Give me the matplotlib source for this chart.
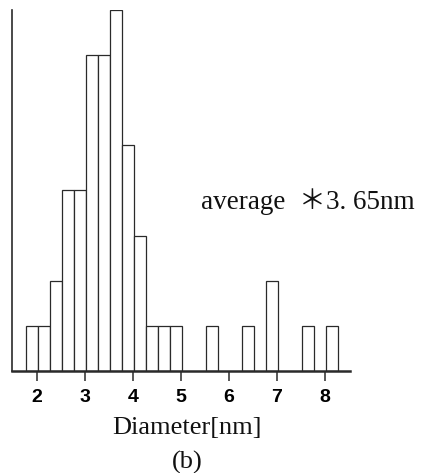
"""Histogram of particle diameters, panel (b)."""

import matplotlib
matplotlib.use("Agg")
import matplotlib.pyplot as plt

# bin left edges (nm) and counts
bin_left = [1.77, 2.02, 2.27, 2.52, 2.77, 3.02, 3.27, 3.52, 3.77, 4.02,
            4.27, 4.52, 4.77, 5.52, 6.27, 6.77, 7.52, 8.02]
counts = [1, 1, 2, 4, 4, 7, 7, 8, 5, 3, 1, 1, 1, 1, 1, 2, 1, 1]
bin_width = 0.25
xticks = [2, 3, 4, 5, 6, 7, 8]
avg_label = "average  \uff0a3. 65nm"

serif = ["Liberation Serif", "Noto Sans CJK JP", "DejaVu Serif"]
narrow = ["Liberation Sans Narrow", "Liberation Sans", "DejaVu Sans"]
ink = "#2a2a2a"

fig = plt.figure(figsize=(4.21, 4.73), dpi=100)
ax = fig.add_axes([12 / 421, 1 - 371 / 473, 338 / 421, 361 / 473])

ax.bar(bin_left, counts, width=bin_width, align="edge",
       facecolor="white", edgecolor=ink, linewidth=0.9)

ax.set_xlim(1.479, 8.52)
ax.set_ylim(0, 8.0)
for side in ("top", "right"):
    ax.spines[side].set_visible(False)
ax.spines["left"].set_color(ink)
ax.spines["left"].set_linewidth(1.2)
ax.spines["bottom"].set_color(ink)
ax.spines["bottom"].set_linewidth(1.8)

ax.set_yticks([])
ax.set_xticks(xticks)
ax.set_xticklabels([str(t) for t in xticks], family=narrow, fontsize=14,
                   fontweight="bold")
ax.tick_params(axis="x", direction="out", length=7, width=1.1,
               color=ink, pad=6)

fig.text(201 / 421, 1 - 202 / 473, avg_label, family=serif, fontsize=19.5,
         ha="left", va="center", color="#111111")
fig.text(187 / 421, 1 - 428 / 473, "Diameter[nm]", family=serif,
         fontsize=19, ha="center", va="center", color="#111111")
fig.text(187 / 421, 1 - 462 / 473, "(b)", family=serif,
         fontsize=19, ha="center", va="center", color="#111111")

fig.savefig("out.png", dpi=100)
